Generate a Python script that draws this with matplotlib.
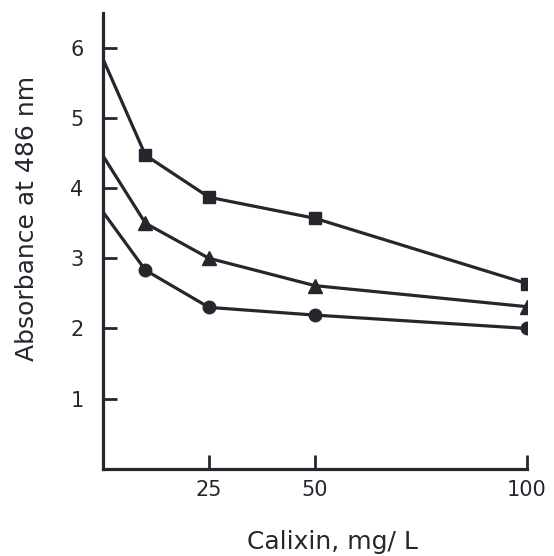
import matplotlib.pyplot as plt

# Calixin concentration (mg/L)
calixin = [0, 10, 25, 50, 100]

# Absorbance at 486 nm for the three series
abs_square = [5.84, 4.47, 3.87, 3.57, 2.64]
abs_triangle = [4.46, 3.50, 3.00, 2.61, 2.31]
abs_circle = [3.66, 2.83, 2.30, 2.19, 2.00]

x_ticks = [25, 50, 100]
y_ticks = [1, 2, 3, 4, 5, 6]

ink = '#26262e'

fig = plt.figure(figsize=(5.54, 5.56), dpi=100)
ax = fig.add_axes([0.186, 0.157, 0.765, 0.82])

# lines, markers only on measured points after x=0
for ys, mk, ms in [(abs_square, 's', 9), (abs_triangle, '^', 10), (abs_circle, 'o', 9)]:
    ax.plot(calixin, ys, color=ink, lw=2.3)
    ax.plot(calixin[1:], ys[1:], ls='none', marker=mk, ms=ms, color=ink)

ax.set_xlim(0, 100)
ax.set_ylim(0, 6.5)
ax.set_xticks(x_ticks)
ax.set_yticks(y_ticks)

ax.spines['top'].set_visible(False)
ax.spines['right'].set_visible(False)
ax.spines['left'].set_linewidth(2.3)
ax.spines['bottom'].set_linewidth(2.3)
ax.spines['left'].set_color(ink)
ax.spines['bottom'].set_color(ink)

ax.tick_params(axis='y', direction='in', length=10, width=2, pad=14,
               labelsize=15, colors=ink)
ax.tick_params(axis='x', direction='in', length=10, width=2, pad=8,
               labelsize=15, colors=ink)

ax.set_xlabel('Calixin, mg/ L', fontsize=18, color=ink)
ax.set_ylabel('Absorbance at 486 nm', fontsize=18, color=ink)
ax.xaxis.set_label_coords(0.542, -0.16)
ax.yaxis.set_label_coords(-0.179, 0.549)
ax.xaxis.label.set_va('center')
ax.yaxis.label.set_va('center')

fig.savefig('out.png', dpi=100)
